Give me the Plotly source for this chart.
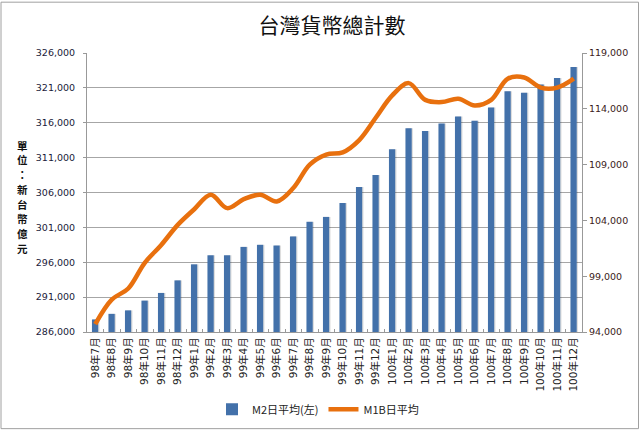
import plotly.graph_objects as go

categories = ["98年7月", "98年8月", "98年9月", "98年10月", "98年11月", "98年12月",
              "99年1月", "99年2月", "99年3月", "99年4月", "99年5月", "99年6月",
              "99年7月", "99年8月", "99年9月", "99年10月", "99年11月", "99年12月",
              "100年1月", "100年2月", "100年3月", "100年4月", "100年5月", "100年6月",
              "100年7月", "100年8月", "100年9月", "100年10月", "100年11月", "100年12月"]

m2_values = [287800, 288600, 289100, 290500, 291600, 293400,
             295700, 297000, 297000, 298200, 298500, 298400,
             299700, 301800, 302500, 304500, 306800, 308500,
             312200, 315200, 314800, 315900, 316900, 316300,
             318200, 320500, 320300, 321500, 322400, 324000]

m1b_values = [94700, 96900, 97900, 100200, 101800, 103600,
              105000, 106300, 105100, 105900, 106300, 105700,
              106900, 109000, 109900, 110100, 111200, 113200,
              115200, 116300, 114800, 114600, 114900, 114300,
              114800, 116700, 116800, 115900, 115900, 116700]

left_ticks = [286000, 291000, 296000, 301000, 306000, 311000, 316000, 321000, 326000]
right_ticks = [94000, 99000, 104000, 109000, 114000, 119000]

title_text = "台灣貨幣總計數"
y_title_text = "單位：新台幣億元"
bar_name = "M2日平均(左)"
line_name = "M1B日平均"

font_family = "DejaVu Sans, Noto Sans CJK TC, sans-serif"
cjk_family = "Noto Sans CJK TC, sans-serif"

L, R, T, B = 87, 582, 52.5, 332.5
PW, PH = R - L, B - T

fig = go.Figure()

# soft shadow behind bars
fig.add_trace(go.Bar(
    x=categories, y=[v - left_ticks[0] for v in m2_values], base=left_ticks[0],
    width=0.38, offset=-0.12,
    marker=dict(color="rgba(0,0,0,0.13)", line=dict(width=0)),
    showlegend=False, hoverinfo="skip", yaxis="y"))

fig.add_trace(go.Bar(
    x=categories, y=[v - left_ticks[0] for v in m2_values], base=left_ticks[0],
    width=0.38, offset=-0.2,
    name=bar_name,
    marker=dict(color="#4371AA", line=dict(width=0)),
    yaxis="y"))

fig.add_trace(go.Scatter(
    x=categories, y=m1b_values, name=line_name, mode="lines",
    line=dict(color="#E8700E", width=4.5, shape="spline", smoothing=1.0),
    yaxis="y2"))

fig.update_layout(
    width=640, height=431,
    margin=dict(l=L, r=640 - R, t=T, b=431 - B, autoexpand=False),
    paper_bgcolor="white", plot_bgcolor="white",
    barmode="overlay",
    title=dict(text=title_text, x=332 / 640, xanchor="center", y=1 - 26 / 431, yanchor="middle",
               font=dict(family=cjk_family, size=21, color="#111")),
    font=dict(family=font_family, size=10, color="#222"),
    xaxis=dict(
        type="category", tickangle=-90, tickfont=dict(size=10.5, family=font_family, color="#222"),
        showline=True, linecolor="#999", linewidth=1, mirror=False,
        ticks="inside", ticklen=3, tickcolor="#999", tickson="boundaries",
        showgrid=False, range=[-0.5, len(categories) - 0.5], automargin=False),
    yaxis=dict(
        range=[left_ticks[0], left_ticks[-1]], tickvals=left_ticks,
        ticktext=[f"{v:,}" for v in left_ticks],
        showgrid=True, gridcolor="#A6A6A6", gridwidth=1,
        showline=True, linecolor="#999", linewidth=1,
        ticks="outside", ticklen=3, tickcolor="#999", ticklabelstandoff=6,
        tickfont=dict(size=9.5, color="#1a1a3a"), zeroline=False, automargin=False),
    yaxis2=dict(
        overlaying="y", side="right",
        range=[right_ticks[0], right_ticks[-1]], tickvals=right_ticks,
        ticktext=[f"{v:,}" for v in right_ticks],
        showgrid=False, showline=True, linecolor="#999", linewidth=1,
        ticks="outside", ticklen=4, tickcolor="#999",
        tickfont=dict(size=9.5, color="#3a1a1a"), zeroline=False, automargin=False),
    legend=dict(orientation="h", x=(318 - L) / PW, xanchor="center", y=-77.5 / PH, yanchor="middle",
                font=dict(family=cjk_family, size=11, color="#222"),
                bgcolor="rgba(0,0,0,0)", itemwidth=30),
    showlegend=True,
)

# vertical axis title, one character per row
chars = list(y_title_text)
step = 14.8
top_center = 145
for i, ch in enumerate(chars):
    yc = top_center + i * step
    fig.add_annotation(
        text=ch, xref="paper", yref="paper",
        x=(22 - L) / PW, y=(B - yc) / PH, xanchor="center", yanchor="middle",
        showarrow=False, borderpad=0,
        font=dict(family=cjk_family, size=10.5, color="#111", weight="bold"))

# outer chart border
fig.add_shape(type="rect", xref="paper", yref="paper",
              x0=(1 - L) / PW, x1=(638.5 - L) / PW,
              y0=(B - 429.5) / PH, y1=1 + (T - 1.5) / PH,
              line=dict(color="#A0A0A0", width=1), layer="below")

fig.write_html("out.html", config={"displayModeBar": False},
               post_script="document.body.style.margin='0px';document.body.style.overflow='hidden';")
